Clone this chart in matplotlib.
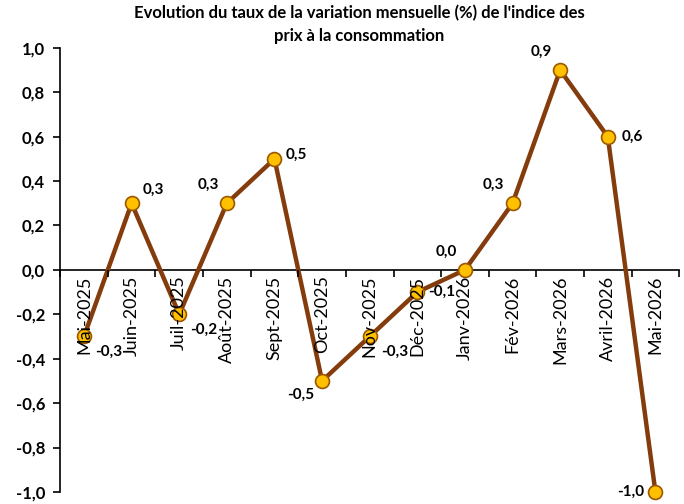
import numpy as np
import matplotlib.pyplot as plt
from matplotlib.ticker import FuncFormatter

months = ["Mai-2025", "Juin-2025", "Juil-2025", "Août-2025", "Sept-2025", "Oct-2025",
          "Nov-2025", "Déc-2025", "Janv-2026", "Fév-2026", "Mars-2026", "Avril-2026", "Mai-2026"]
values = [-0.3, 0.3, -0.2, 0.3, 0.5, -0.5, -0.3, -0.1, 0.0, 0.3, 0.9, 0.6, -1.0]
# label offsets in points (dx, dy) for each data label
offsets = [(8, -6), (8, 5), (8, -6), (-6, 8), (8, 3), (-6, -5), (8, -6), (8, 0),
           (-6, 8), (-6, 8), (-6, 8), (10, 0), (-8, 0)]

plt.rcParams['font.family'] = ['Lato', 'DejaVu Sans']

fig = plt.figure(figsize=(6.84, 5.04), dpi=100)
ax = fig.add_axes([0.088, 0.024, 0.905, 0.881])

x = np.arange(len(months))
ax.plot(x, values, color='#843C0C', lw=3.2, marker='o', markersize=10,
        markerfacecolor='#FFC000', markeredgecolor='#9C5700', markeredgewidth=1.2,
        zorder=3, clip_on=False)

for xi, v, (dx, dy) in zip(x, values, offsets):
    lab = f"{v:.1f}".replace('.', ',')
    ha = 'left' if dx > 0 else 'right'
    va = 'bottom' if dy > 3 else ('top' if dy < -3 else 'center')
    ax.annotate(lab, (xi, v), xytext=(dx, dy), textcoords='offset points',
                ha=ha, va=va, fontsize=11, fontweight='bold', color='black', zorder=4)

ax.set_ylim(-1.0, 1.0)
ax.set_xlim(-0.5, len(months) - 0.5)
ax.set_yticks(np.arange(-1.0, 1.01, 0.2))
ax.yaxis.set_major_formatter(FuncFormatter(lambda v, p: f"{v:.1f}".replace('.', ',').replace('-0,0', '0,0')))
ax.tick_params(axis='y', direction='out', length=5, width=1.2, labelsize=12, pad=6)
for t in ax.get_yticklabels():
    t.set_fontweight('bold')

ax.set_xticks(x)
ax.set_xticklabels(months)
ax.tick_params(axis='x', which='major', length=0, pad=4, labelrotation=90, labelsize=13)
ax.set_xticks(np.arange(-0.5, len(months), 1.0), minor=True)
ax.tick_params(axis='x', which='minor', direction='out', length=5, width=1.2)
for t in ax.get_xticklabels():
    t.set_rotation(90)
    t.set_va('top')
    t.set_fontsize(13)
ax.xaxis.set_zorder(5)

ax.spines['top'].set_visible(False)
ax.spines['right'].set_visible(False)
ax.spines['bottom'].set_position(('data', 0))
ax.spines['left'].set_linewidth(1.2)
ax.spines['bottom'].set_linewidth(1.2)

fig.suptitle("Evolution du taux de la variation mensuelle (%) de l'indice des\nprix à la consommation",
             fontsize=12, fontweight='bold', y=0.99, va='top', x=0.525, linespacing=1.5)

fig.savefig('out.png', dpi=100)
